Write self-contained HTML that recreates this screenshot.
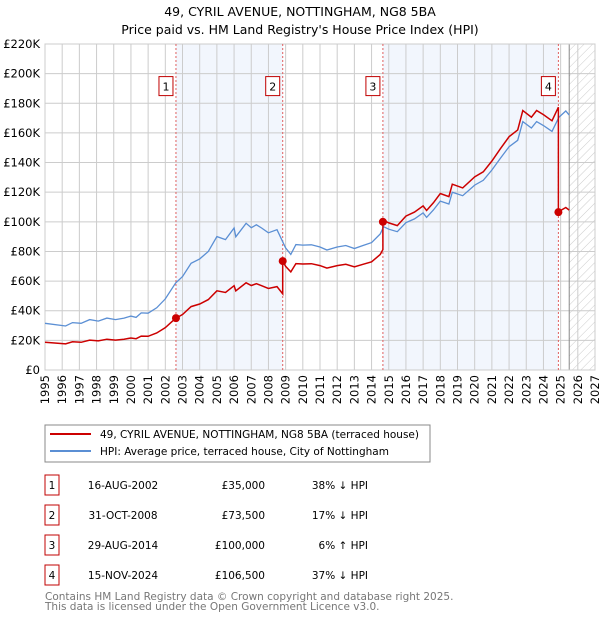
<!DOCTYPE html>
<html><head><meta charset="utf-8"><style>
body{margin:0;background:#fff;font-family:"DejaVu Sans","Liberation Sans",sans-serif;}
svg{display:block}
</style></head><body>
<svg width="600" height="620" xmlns="http://www.w3.org/2000/svg" id="chart" font-family="DejaVu Sans, Liberation Sans, sans-serif">
<defs><pattern id="hatch" width="6" height="6" patternUnits="userSpaceOnUse" patternTransform="rotate(45)"><line x1="0" y1="0" x2="0" y2="6" stroke="#ccc" stroke-width="1"/></pattern></defs>
<text x="300" y="16" text-anchor="middle" font-size="12.5">49, CYRIL AVENUE, NOTTINGHAM, NG8 5BA</text>
<text x="300" y="34" text-anchor="middle" font-size="12.5">Price paid vs. HM Land Registry's House Price Index (HPI)</text>
<g id="plot"></g>
<rect x="45" y="425" width="385" height="37" fill="#fff" stroke="#888"/>
<line x1="50" y1="434" x2="91" y2="434" stroke="#cc0000" stroke-width="2"/>
<text x="100" y="438" font-size="10.5">49, CYRIL AVENUE, NOTTINGHAM, NG8 5BA (terraced house)</text>
<line x1="50" y1="451" x2="91" y2="451" stroke="#5b8fd4" stroke-width="2"/>
<text x="100" y="455" font-size="10.5">HPI: Average price, terraced house, City of Nottingham</text>
<g id="table" font-size="10.5"></g>
<text x="45" y="600" font-size="10.5" fill="#777">Contains HM Land Registry data © Crown copyright and database right 2025.</text>
<text x="45" y="610" font-size="10.5" fill="#777">This data is licensed under the Open Government Licence v3.0.</text>
</svg>
<script>
const hpiYears=[1995,1996.2,1996.6,1997.1,1997.6,1998.1,1998.6,1999.1,1999.6,2000,2000.3,2000.6,2001,2001.5,2002,2002.6,2003,2003.5,2004,2004.5,2005,2005.5,2006,2006.1,2006.7,2007,2007.3,2007.6,2008,2008.5,2009,2009.3,2009.6,2010,2010.5,2011,2011.4,2012,2012.5,2013,2013.5,2014,2014.5,2014.7,2015,2015.5,2016,2016.5,2017,2017.2,2017.6,2018,2018.5,2018.7,2019.3,2020,2020.5,2021,2021.5,2022,2022.5,2022.8,2023.3,2023.6,2024,2024.5,2024.9,2025.3,2025.5];
const hpiValues=[31.5,29.7,32,31.5,34,33,35,34,35,36.4,35.5,38.5,38.3,42,48,58.7,63,72,75,80,90,88,95.8,89.9,99,96,98,95.8,92.6,94.7,82.4,78,84.6,84.3,84.5,83,81,83,84,82,84,86,91.8,96.7,95,93.3,99.4,102,106,103,108,114,112,120,117.6,124.8,128,135,143,150.7,155,167.6,163.3,167.6,165,161,170.5,174.8,172];
const saleYears=[2002.62,2008.83,2014.66,2024.87];
const salePrices=[35,73.5,100,106.5];
const saleDates=["16-AUG-2002","31-OCT-2008","29-AUG-2014","15-NOV-2024"];
const salePriceLabels=["£35,000","£73,500","£100,000","£106,500"];
const saleHpiLabels=["38% ↓ HPI","17% ↓ HPI","6% ↑ HPI","37% ↓ HPI"];
const yTicks=[0,20,40,60,80,100,120,140,160,180,200,220];
const xTicks=[1995,1996,1997,1998,1999,2000,2001,2002,2003,2004,2005,2006,2007,2008,2009,2010,2011,2012,2013,2014,2015,2016,2017,2018,2019,2020,2021,2022,2023,2024,2025,2026,2027];
const X0=45,X1=595,Y0=370,Y1=44,xmin=1995,xmax=2027,ymax=220,dataEnd=2025.5;
const xs=v=>X0+(v-xmin)/(xmax-xmin)*(X1-X0);
const ys=v=>Y0-v/ymax*(Y0-Y1);
const NS="http://www.w3.org/2000/svg";
function mk(p,tag,a){const e=document.createElementNS(NS,tag);for(const k in a)e.setAttribute(k,a[k]);p.appendChild(e);return e;}
function hpiAt(t){if(t<=hpiYears[0])return hpiValues[0];for(let i=1;i<hpiYears.length;i++){if(t<=hpiYears[i]){const f=(t-hpiYears[i-1])/(hpiYears[i]-hpiYears[i-1]);return hpiValues[i-1]+f*(hpiValues[i]-hpiValues[i-1]);}}return hpiValues[hpiValues.length-1];}
const g=document.getElementById('plot');
for(let i=0;i<saleYears.length;i+=2){const x2=i+1<saleYears.length?xs(saleYears[i+1]):X1;const r=mk(g,'rect',{x:xs(saleYears[i]),y:Y1,width:x2-xs(saleYears[i]),height:Y0-Y1,fill:'#eef3fc',opacity:0.75});

}
const hr=mk(g,'rect',{x:xs(dataEnd),y:Y1,width:X1-xs(dataEnd),height:Y0-Y1,fill:'url(#hatch)'});


yTicks.forEach(v=>{const l=mk(g,'line',{x1:X0,x2:X1,y1:ys(v),y2:ys(v),stroke:'#ccc'});


const t=mk(g,'text',{x:X0-5,y:ys(v)+4,'text-anchor':'end','font-size':'11.5'});t.textContent='£'+v+(v?'K':'');

});
xTicks.forEach(v=>{const l=mk(g,'line',{x1:xs(v),x2:xs(v),y1:Y1,y2:Y0,stroke:'#ccc'});


const t=mk(g,'text',{x:0,y:0,'text-anchor':'end','font-size':'11.5',transform:`translate(${xs(v)+4},${Y0+5}) rotate(-90)`});t.textContent=v;

});
const dl=mk(g,'line',{x1:xs(dataEnd),x2:xs(dataEnd),y1:Y1,y2:Y0,stroke:'#888'});


const fr=mk(g,'rect',{x:X0,y:Y1,width:X1-X0,height:Y0-Y1,fill:'none',stroke:'#ccc'});


saleYears.forEach((s,i)=>{const l=mk(g,'line',{x1:xs(s),x2:xs(s),y1:Y1,y2:Y0,stroke:'#e06060','stroke-dasharray':'2,2','stroke-width':1});


const bx=mk(g,'rect',{x:xs(s)-17,y:ys(198),width:14,height:19,fill:'#fff',stroke:'#c00000'});


const t=mk(g,'text',{x:xs(s)-10,y:ys(198)+14,'text-anchor':'middle','font-size':'11'});t.textContent=i+1;

});
let d='';hpiYears.forEach((y,i)=>{d+=(i?'L':'M')+xs(y).toFixed(1)+','+ys(hpiValues[i]).toFixed(1);});
const hl=mk(g,'path',{d,fill:'none',stroke:'#5b8fd4','stroke-width':1.3});


const factors=saleYears.map((s,i)=>salePrices[i]/hpiAt(s));
function factorAt(t){let k=0;for(let i=0;i<saleYears.length;i++)if(t>=saleYears[i])k=i;return factors[k];}
const pts=[...hpiYears,...saleYears.flatMap(s=>[s-0.001,s])].sort((a,b)=>a-b);
let d2='';pts.forEach((t,i)=>{d2+=(i?'L':'M')+xs(t).toFixed(1)+','+ys(hpiAt(t)*factorAt(t)).toFixed(1);});
const pl=mk(g,'path',{d:d2,fill:'none',stroke:'#cc0000','stroke-width':1.5});


saleYears.forEach((s,i)=>{const c=mk(g,'circle',{cx:xs(s),cy:ys(salePrices[i]),r:4,fill:'#cc0000'});

});
const tb=document.getElementById('table');
saleYears.forEach((s,i)=>{const y=483+i*30;
const b=mk(tb,'rect',{x:45,y:y-8,width:14,height:20,fill:'#fff',stroke:'#c00000'});


const n=mk(tb,'text',{x:52,y:y+6,'text-anchor':'middle'});n.textContent=i+1;


const dt=mk(tb,'text',{x:123,y:y+6,'text-anchor':'middle'});dt.textContent=saleDates[i];


const p=mk(tb,'text',{x:265,y:y+6,'text-anchor':'end'});p.textContent=salePriceLabels[i];


const h=mk(tb,'text',{x:368,y:y+6,'text-anchor':'end'});h.textContent=saleHpiLabels[i];

});
</script>
</body></html>
